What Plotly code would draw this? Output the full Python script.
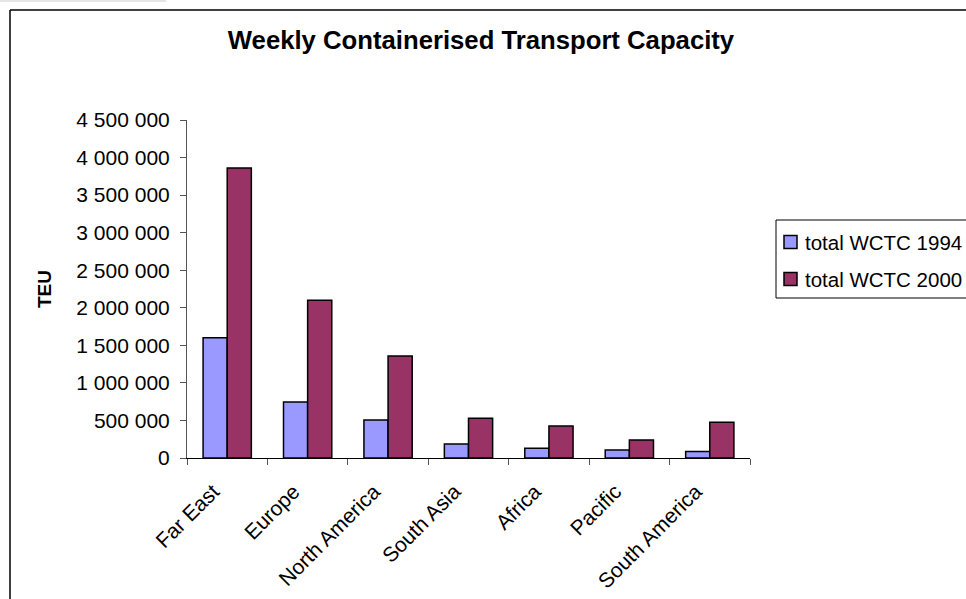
import plotly.graph_objects as go

# Weekly containerised transport capacity by region (TEU)
regions = ["Far East", "Europe", "North America", "South Asia", "Africa", "Pacific", "South America"]
wctc_1994 = [1600000, 745000, 505000, 185000, 130000, 105000, 85000]
wctc_2000 = [3860000, 2100000, 1358000, 530000, 425000, 240000, 475000]
y_ticks = [0, 500000, 1000000, 1500000, 2000000, 2500000, 3000000, 3500000, 4000000, 4500000]
y_tick_text = ["0", "500 000", "1 000 000", "1 500 000", "2 000 000", "2 500 000",
               "3 000 000", "3 500 000", "4 000 000", "4 500 000"]
series_names = ["total WCTC 1994", "total WCTC 2000"]
series_colors = ["#9999FF", "#993366"]

FONT = "Liberation Sans, Arial, sans-serif"

fig = go.Figure()
for name, vals, col in zip(series_names, [wctc_1994, wctc_2000], series_colors):
    fig.add_trace(go.Bar(
        x=regions, y=vals, name=name, showlegend=False,
        marker=dict(color=col, line=dict(color="black", width=1.5)),
    ))

W, H = 966, 599
L, R, T, B = 187, 216, 120, 141
pw, ph = W - L - R, H - T - B


def px_x(x):
    return (x - L) / pw


def px_y(y):
    return (H - B - y) / ph


shapes = [
    # chart frame
    dict(type="line", xref="paper", yref="paper",
         x0=px_x(10), x1=px_x(W + 5), y0=px_y(10), y1=px_y(10),
         line=dict(color="black", width=1.5)),
    dict(type="line", xref="paper", yref="paper",
         x0=px_x(10), x1=px_x(10), y0=px_y(10), y1=px_y(H + 5),
         line=dict(color="black", width=1.5)),
    dict(type="rect", xref="paper", yref="paper",
         x0=px_x(0), x1=px_x(166), y0=px_y(0), y1=px_y(2),
         line=dict(width=0), fillcolor="#e4e4e4"),
    # legend box
    dict(type="rect", xref="paper", yref="paper",
         x0=px_x(776), x1=px_x(W + 10), y0=px_y(220), y1=px_y(298),
         line=dict(color="black", width=1), fillcolor="white"),
]
annotations = []
legend_rows = [242, 279]
for name, col, yc in zip(series_names, series_colors, legend_rows):
    shapes.append(dict(type="rect", xref="paper", yref="paper",
                       x0=px_x(784), x1=px_x(797), y0=px_y(yc - 6.5), y1=px_y(yc + 6.5),
                       line=dict(color="black", width=1.5), fillcolor=col))
    annotations.append(dict(text=name, xref="paper", yref="paper",
                            x=px_x(803), y=px_y(yc), xanchor="left", yanchor="middle",
                            showarrow=False, font=dict(size=20.5, family=FONT, color="black")))

fig.update_layout(
    width=W, height=H,
    margin=dict(l=L, r=R, t=T, b=B, autoexpand=False),
    paper_bgcolor="white", plot_bgcolor="white",
    font=dict(family=FONT, size=20, color="black"),
    barmode="group", bargap=0.4, bargroupgap=0,
    title=dict(text="<b>Weekly Containerised Transport Capacity</b>",
               x=481 / W, xanchor="center", y=1 - 40 / H, yanchor="middle",
               xref="container", yref="container",
               font=dict(size=25.7, family=FONT, color="black")),
    showlegend=False,
    xaxis=dict(
        type="category", showline=True, linecolor="black", linewidth=1,
        ticks="outside", tickson="boundaries", ticklen=6, tickcolor="#555",
        tickangle=-45, showgrid=False, tickfont=dict(size=21),
        ticklabelshift=-14, ticklabelstandoff=12,
    ),
    yaxis=dict(
        range=[0, 4500000], tickvals=y_ticks, ticktext=y_tick_text,
        showline=True, linecolor="#555", linewidth=1,
        ticks="outside", ticklen=6, tickcolor="#555",
        showgrid=False, zeroline=False, tickfont=dict(size=21),
        ticklabelstandoff=6,
        title=dict(text="<b>TEU</b>", font=dict(size=19), standoff=19),
    ),
    shapes=shapes,
    annotations=annotations,
)

fig.write_html("out.html")
